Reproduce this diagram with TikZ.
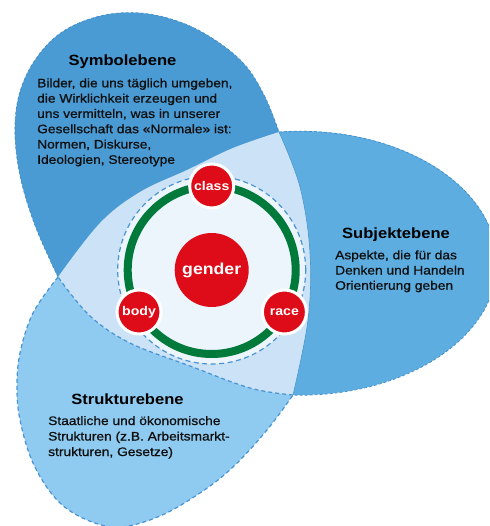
\documentclass[tikz,border=0pt]{standalone}
\usepackage{fontspec}
\setmainfont{Liberation Sans}[FakeStretch=1.12]
\newfontfamily\bodyfont{Liberation Sans}[FakeStretch=1.12, FakeBold=0.8]
\usetikzlibrary{calc}
\definecolor{tlblue}{RGB}{74,154,212}
\definecolor{rblue}{RGB}{93,173,225}
\definecolor{blblue}{RGB}{143,202,240}
\definecolor{lightov}{RGB}{204,226,246}
\definecolor{pale}{RGB}{236,244,252}
\definecolor{dashblue}{RGB}{72,148,212}
\definecolor{rimblue}{RGB}{66,140,200}
\definecolor{ringgreen}{RGB}{0,122,58}
\definecolor{redc}{RGB}{222,12,24}
\definecolor{txtblack}{RGB}{15,15,15}
\tikzset{
  bodytxt/.style={anchor=base west, inner sep=0pt, font=\bodyfont\fontsize{12.3}{15}\selectfont, text=txtblack},
  titletxt/.style={anchor=base, inner sep=0pt, font=\bfseries\fontsize{14.8}{17}\selectfont, text=black},
  smallred/.style={circle, fill=redc, draw=white, line width=3pt, minimum size=44pt, inner sep=0pt, text=white, font=\bfseries\fontsize{12.6}{14}\selectfont},
  bigred/.style={circle, fill=redc, minimum size=74pt, inner sep=0pt, text=white, font=\bfseries\fontsize{15.8}{18}\selectfont},
  bldash/.style={draw=dashblue, line width=1.2pt, dash pattern=on 4pt off 3pt},
  rimdash/.style={draw=rimblue, line width=0.7pt, dash pattern=on 3pt off 2pt},
}
\begin{document}
\begin{tikzpicture}[x=1pt,y=-1pt]
\useasboundingbox (0,0) rectangle (489,526);
\clip (0,0) rectangle (489,526);
\coordinate (VL) at (58,277);
\coordinate (VT) at (279,132);
\coordinate (VB) at (293,395);
\coordinate (O) at (211.7,270);
% right ellipse (Subjektebene)
\fill[rblue] (300,263) ellipse [x radius=197pt, y radius=132pt];
% top-left shape (Symbolebene)
\fill[tlblue] plot[smooth, tension=0.6] coordinates {(58,277) (36,228) (21,180) (15,135) (19,95) (35,60) (62,32) (100,16) (140,13) (180,22) (215,40) (245,65) (265,97) (279,132)} -- cycle;
% bottom-left shape (Strukturebene)
\fill[blblue] plot[smooth, tension=0.6] coordinates {(58,277) (33,313) (20,353) (17,387) (20,420) (33,463) (57,500) (87,520) (120,527) (160,516) (200,493) (233,467) (267,430) (293,395)} -- cycle;
% central overlap
\fill[lightov] plot[smooth, tension=0.6] coordinates {(58,277) (100,223) (140,192) (187,170) (233,148) (279,132)}
  -- plot[smooth, tension=0.6] coordinates {(279,132) (300,187) (310,253) (308,320) (293,395)}
  -- plot[smooth, tension=0.6] coordinates {(293,395) (250,388) (190,366) (130,343) (90,316) (58,277)} -- cycle;
% outlines
\draw[rimdash] plot[smooth, tension=0.6] coordinates {(58,277) (36,228) (21,180) (15,135) (19,95) (35,60) (62,32) (100,16) (140,13) (180,22) (215,40) (245,65) (265,97) (279,132)};
\draw[rimdash] (VT) arc[start angle=96.1, end angle=-92, x radius=197pt, y radius=132pt];
\draw[draw=rimblue!70!rblue, line width=0.6pt] plot[smooth, tension=0.6] coordinates {(279,132) (300,187) (310,253) (308,320) (293,395)};
\draw[bldash] plot[smooth, tension=0.6] coordinates {(58,277) (33,313) (20,353) (17,387) (20,420) (33,463) (57,500) (87,520) (120,527) (160,516) (200,493) (233,467) (267,430) (293,395)};
\draw[bldash] plot[smooth, tension=0.6] coordinates {(293,395) (250,388) (190,366) (130,343) (90,316) (58,277)};
% inner circle
\fill[pale] (O) circle[radius=94pt];
\draw[bldash, dash pattern=on 5pt off 3.5pt] (O) circle[radius=94pt];
\draw[ringgreen, line width=8pt] (O) circle[radius=84pt];
\node[bigred] (gender) at (O) {gender};
\node[smallred] (class) at ($(O)+(0,-84)$) {class};
\node[smallred] (body) at ($(O)+(-72.7,42)$) {body};
\node[smallred] (race) at ($(O)+(72.7,42)$) {race};
% texts
\node[titletxt] (t1) at (122.5,65.5) {Symbolebene};
\node[bodytxt] (s1) at (37,87.3) {Bilder, die uns täglich umgeben,};
\node[bodytxt] (s2) at (37,102.6) {die Wirklichkeit erzeugen und};
\node[bodytxt] (s3) at (37,117.9) {uns vermitteln, was in unserer};
\node[bodytxt] (s4) at (37,133.2) {Gesellschaft das «Normale» ist:};
\node[bodytxt] (s5) at (37,148.5) {Normen, Diskurse,};
\node[bodytxt] (s6) at (37,163.8) {Ideologien, Stereotype};
\node[titletxt] (t2) at (396,238) {Subjektebene};
\node[bodytxt] (j1) at (335,259.3) {Aspekte, die für das};
\node[bodytxt] (j2) at (335,274.5) {Denken und Handeln};
\node[bodytxt] (j3) at (335,289.7) {Orientierung geben};
\node[titletxt] (t3) at (127.5,404) {Strukturebene};
\node[bodytxt] (k1) at (48,425) {Staatliche und ökonomische};
\node[bodytxt] (k2) at (48,440.5) {Strukturen (z.B. Arbeitsmarkt-};
\node[bodytxt] (k3) at (48,456) {strukturen, Gesetze)};
\end{tikzpicture}
\end{document}
